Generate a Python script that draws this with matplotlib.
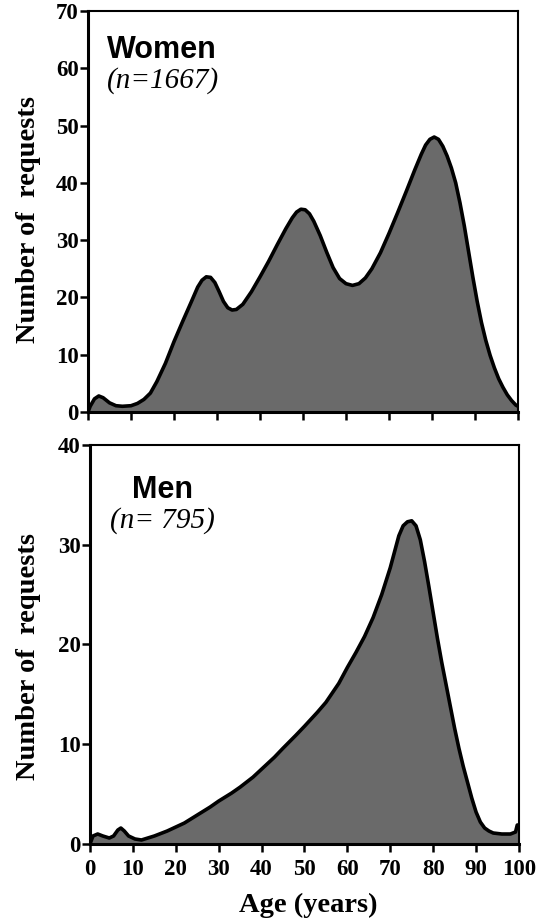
import matplotlib
matplotlib.use("Agg")
import matplotlib.pyplot as plt

# Women: age (years) vs number of requests
women_age = [0, 0.5, 1.5, 2.5, 3.5, 5, 6.5, 8, 10, 11.5, 13, 14.5, 16, 18, 20, 22, 24,
             25.5, 26.5, 27.5, 28.5, 29.5, 30.5, 31.5, 32.5, 33.5, 34.5, 36, 38, 40,
             42, 44, 46, 47.5, 48.5, 49.5, 50.5, 51.5, 52.5, 54, 55.5, 57, 58.5, 60,
             61.5, 63, 64.5, 66, 68, 70, 72, 74, 76, 77.5, 78.5, 79.5, 80.5, 81.5,
             82.5, 83.5, 84.5, 85.5, 86.5, 87.5, 88.5, 89.5, 90.5, 91.5, 92.5, 93.5,
             94.5, 95.5, 96.5, 97.5, 98.5, 99.5, 100]
women_req = [0, 1.0, 2.3, 2.8, 2.5, 1.6, 1.1, 1.0, 1.1, 1.5, 2.2, 3.3, 5.3, 8.5, 12.3,
             15.8, 19.2, 21.8, 23.0, 23.6, 23.5, 22.6, 21.0, 19.3, 18.2, 17.8, 17.9,
             18.8, 21.0, 23.6, 26.3, 29.2, 32.0, 33.9, 34.9, 35.4, 35.3, 34.6, 33.3,
             30.8, 27.9, 25.2, 23.3, 22.4, 22.1, 22.4, 23.4, 25.0, 27.8, 31.2, 34.8,
             38.5, 42.3, 45.0, 46.6, 47.6, 48.0, 47.6, 46.4, 44.7, 42.6, 40.0, 36.5,
             32.5, 28.0, 23.5, 19.3, 15.6, 12.5, 9.9, 7.7, 5.8, 4.3, 3.0, 2.0, 1.2, 1.0]

# Men
men_age = [0, 0.7, 1.8, 3, 4.5, 5.5, 6.5, 7.2, 8, 9, 10.5, 12, 15, 18, 20, 22, 25, 28,
           30, 33, 35, 38, 40, 43, 45, 48, 50, 53, 55, 58, 60, 62, 64, 66, 68, 70, 71,
           72, 73, 74, 75, 76, 77, 78, 79, 80, 81, 82, 83, 84, 85, 86, 87, 88, 89, 90,
           91, 92, 93, 94, 96, 98, 99.2, 99.6, 100]
men_req = [0, 0.8, 1.0, 0.8, 0.6, 0.8, 1.4, 1.6, 1.3, 0.8, 0.5, 0.4, 0.8, 1.3, 1.7,
           2.1, 2.9, 3.7, 4.3, 5.1, 5.7, 6.7, 7.5, 8.7, 9.6, 10.9, 11.8, 13.2, 14.2,
           16.1, 17.7, 19.2, 20.8, 22.7, 25.0, 27.7, 29.3, 30.9, 31.9, 32.3, 32.4,
           31.9, 30.5, 28.3, 25.8, 23.2, 20.6, 18.2, 16.0, 13.8, 11.6, 9.6, 7.8, 6.2,
           4.6, 3.2, 2.2, 1.6, 1.3, 1.1, 1.0, 1.0, 1.2, 1.9, 1.9]

panels = [
    ("Women", "(n=1667)", women_age, women_req, 70, [0, 10, 20, 30, 40, 50, 60, 70]),
    ("Men", "(n= 795)", men_age, men_req, 40, [0, 10, 20, 30, 40]),
]

fill_color = "#6a6a6a"
serif = ["Liberation Serif", "DejaVu Serif"]
sans = ["Liberation Sans", "DejaVu Sans"]

fig = plt.figure(figsize=(5.42, 9.24), dpi=100)
ax_top = fig.add_axes([0.1624, 0.5541, 0.7934, 0.434])
ax_bot = fig.add_axes([0.166, 0.0866, 0.7915, 0.4318])

for ax, (name, ntext, ages, reqs, ymax, yticks) in zip([ax_top, ax_bot], panels):
    ax.fill_between(ages, reqs, 0, color=fill_color, linewidth=0)
    ax.plot(ages, reqs, color="black", lw=2.6, solid_joinstyle="round",
            solid_capstyle="round")
    ax.set_xlim(0, 100)
    ax.set_ylim(0, ymax)
    ax.set_yticks(yticks)
    ax.set_xticks(range(0, 101, 10))
    for s in ["left", "bottom"]:
        ax.spines[s].set_linewidth(2.2)
    for s in ["top", "right"]:
        ax.spines[s].set_linewidth(1.5)
    ax.tick_params(direction="out", length=6, width=1.8)
    ax.tick_params(axis="y", pad=0.5)
    ax.tick_params(axis="x", pad=5)
    for lab in ax.get_yticklabels() + ax.get_xticklabels():
        lab.set_fontfamily(serif)
        lab.set_fontweight("bold")
        lab.set_fontsize(16.5)
    ax.set_ylabel("Number of  requests", fontfamily=serif, fontweight="bold",
                  fontsize=20.5)

ax_top.tick_params(axis="x", labelbottom=False)
ax_top.yaxis.set_label_coords(-0.109, 0.479)
ax_bot.yaxis.set_label_coords(-0.114, 0.471)

ax_top.text(0.044, 0.883, "Women", transform=ax_top.transAxes, fontfamily=sans,
            fontweight="bold", fontsize=22, va="baseline")
ax_top.text(0.044, 0.808, "(n=1667)", transform=ax_top.transAxes, fontfamily=serif,
            fontstyle="italic", fontsize=21, va="baseline")
ax_bot.text(0.168, 0.867, "Men", transform=ax_bot.transAxes, fontfamily=sans,
            fontweight="bold", fontsize=22, va="baseline", ha="center")
ax_bot.text(0.168, 0.792, "(n= 795)", transform=ax_bot.transAxes, fontfamily=serif,
            fontstyle="italic", fontsize=21, va="baseline", ha="center")

fig.text(308 / 542, 1 - 912 / 924, "Age (years)", fontfamily=serif,
         fontweight="bold", fontsize=20.5, ha="center", va="baseline")

fig.savefig("out.png", dpi=100)
